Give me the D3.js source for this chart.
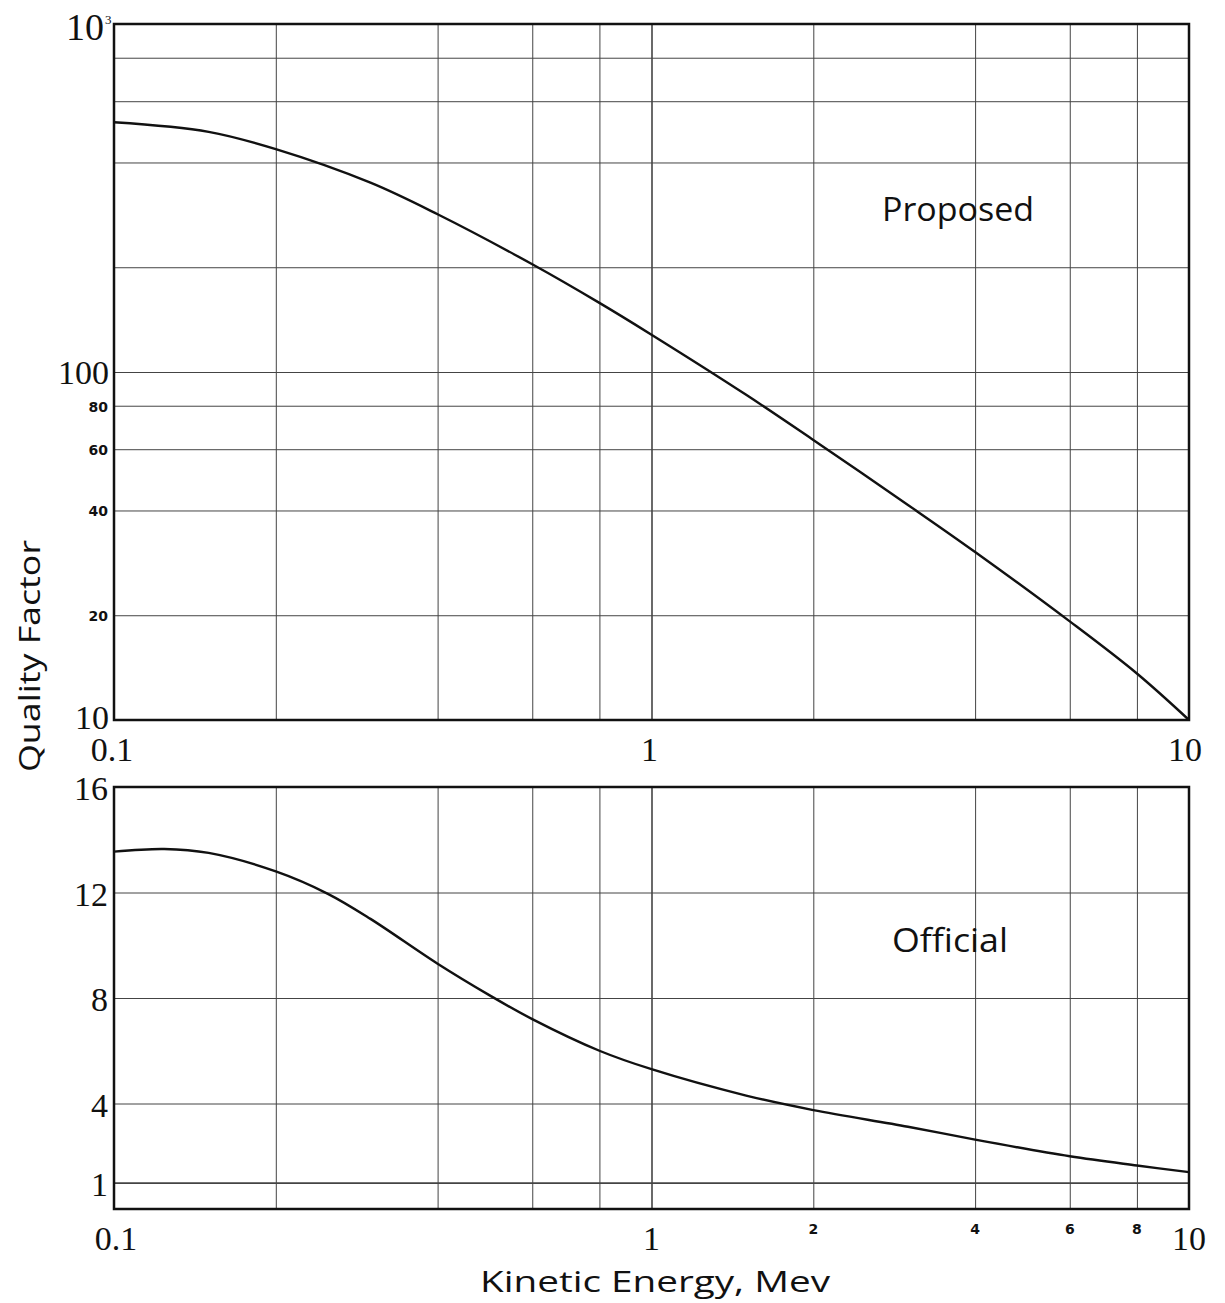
<!DOCTYPE html>
<html>
<head>
<meta charset="utf-8">
<script src="https://cdn.jsdelivr.net/npm/d3@7"></script>
<style>
  body { margin: 0; background: #fff; }
  .grid line { stroke: #444; stroke-width: 1; }
  .grid path { display: none; }
  .frame { fill: none; stroke: #111; stroke-width: 2.5; }
  .curve { fill: none; stroke: #111; stroke-width: 2.4; }
  .big { font-family: "Liberation Serif", serif; fill: #111; }
  .small { font-family: "DejaVu Sans", sans-serif; font-weight: bold; font-size: 14px; fill: #111; }
  .title { font-family: "Open Sans", sans-serif; fill: #111; }
</style>
</head>
<body>
<script>
// proposed quality factor vs kinetic energy (log-log)
const proposedE = [0.1, 0.15, 0.2, 0.3, 0.4, 0.6, 0.8, 1, 1.5, 2, 3, 4, 6, 8, 10];
const proposedQ = [522, 490, 437, 350, 284, 204, 158, 128, 86, 63.8, 41.5, 30.4, 19.2, 13.6, 10];

// official quality factor (linear y)
const officialE = [0.1, 0.124, 0.15, 0.2, 0.25, 0.3, 0.4, 0.5, 0.6, 0.8, 1, 1.5, 2, 3, 4, 6, 8, 10];
const officialQ = [13.55, 13.65, 13.5, 12.8, 11.95, 11.0, 9.3, 8.1, 7.2, 6.0, 5.3, 4.3, 3.75, 3.12, 2.63, 2.0, 1.65, 1.4];

const xGrid = [0.2, 0.4, 0.6, 0.8, 1, 2, 4, 6, 8];
const topGrid = [20, 40, 60, 80, 100, 200, 400, 600, 800];
const botGrid = [1, 4, 8, 12];
const topBigLabels = [10, 100];
const topSmallLabels = [20, 40, 60, 80];
const botLabels = [1, 4, 8, 12, 16];
const xBigLabels = [0.1, 1, 10];
const xSmallLabels = [2, 4, 6, 8];

const W = 1225, H = 1303;
const left = 114, right = 1189;
const topY0 = 24, topY1 = 720;
const botY0 = 787, botY1 = 1209;

const x = d3.scaleLog().domain([0.1, 10]).range([left, right]);
const yTop = d3.scaleLog().domain([10, 1000]).range([topY1, topY0]);
const yBot = d3.scaleLinear().domain([0, 16]).range([botY1, botY0]);

const svg = d3.select('body').append('svg')
    .attr('width', W)
    .attr('height', H);

function panel(y, yTicks, y0, y1) {
    svg.append('g')
        .attr('class', 'grid')
        .attr('transform', 'translate(0,' + y1 + ')')
        .call(d3.axisBottom(x).tickValues(xGrid).tickSize(-(y1 - y0)).tickFormat(''));
    svg.append('g')
        .attr('class', 'grid')
        .attr('transform', 'translate(' + left + ',0)')
        .call(d3.axisLeft(y).tickValues(yTicks).tickSize(-(right - left)).tickFormat(''));
    svg.append('rect')
        .attr('class', 'frame')
        .attr('x', left).attr('y', y0)
        .attr('width', right - left).attr('height', y1 - y0);
}

panel(yTop, topGrid, topY0, topY1);
panel(yBot, botGrid, botY0, botY1);

// the x = 1 line is drawn a little heavier
svg.selectAll('.grid line').filter(d => d === 1).style('stroke-width', 1.6);

const topLine = d3.line()
    .curve(d3.curveCatmullRom.alpha(0.5))
    .x(d => x(d[0]))
    .y(d => yTop(d[1]));
svg.append('path')
    .attr('class', 'curve')
    .attr('d', topLine(d3.zip(proposedE, proposedQ)));

const botLine = d3.line()
    .curve(d3.curveCatmullRom.alpha(0.5))
    .x(d => x(d[0]))
    .y(d => yBot(d[1]));
svg.append('path')
    .attr('class', 'curve')
    .attr('d', botLine(d3.zip(officialE, officialQ)));

// y labels, top panel
svg.selectAll('.ytb').data(topBigLabels).enter().append('text')
    .attr('class', 'big')
    .attr('x', 109).attr('y', d => yTop(d) + (d === 10 ? 9 : 12))
    .attr('text-anchor', 'end')
    .style('font-size', '34px')
    .text(d => d);
svg.append('text')
    .attr('class', 'big')
    .attr('x', 104).attr('y', yTop(1000) + 16)
    .attr('text-anchor', 'end')
    .style('font-size', '38px')
    .text('10');
svg.append('text')
    .attr('class', 'big')
    .attr('x', 105).attr('y', yTop(1000))
    .style('font-size', '13px')
    .text('3');
svg.selectAll('.yts').data(topSmallLabels).enter().append('text')
    .attr('class', 'small')
    .attr('x', 108).attr('y', d => yTop(d) + 6)
    .attr('text-anchor', 'end')
    .text(d => d);

// y labels, bottom panel
svg.selectAll('.yb').data(botLabels).enter().append('text')
    .attr('class', 'big')
    .attr('x', 108).attr('y', d => yBot(d) + 13)
    .attr('text-anchor', 'end')
    .style('font-size', '34px')
    .text(d => d);

// x labels
svg.selectAll('.xt').data(xBigLabels).enter().append('text')
    .attr('class', 'big')
    .attr('x', d => x(d) + (d === 10 ? -4 : -2)).attr('y', 761)
    .attr('text-anchor', 'middle')
    .style('font-size', '34px')
    .text(d => d);
svg.selectAll('.xb').data(xBigLabels).enter().append('text')
    .attr('class', 'big')
    .attr('x', d => x(d) + (d === 0.1 ? 2 : 0)).attr('y', 1250)
    .attr('text-anchor', 'middle')
    .style('font-size', '34px')
    .text(d => d);
svg.selectAll('.xs').data(xSmallLabels).enter().append('text')
    .attr('class', 'small')
    .attr('x', d => x(d)).attr('y', 1234)
    .attr('text-anchor', 'middle')
    .text(d => d);

// titles
svg.append('text')
    .attr('class', 'title')
    .attr('transform', 'translate(40,656) rotate(-90)')
    .attr('text-anchor', 'middle')
    .attr('textLength', 232)
    .attr('lengthAdjust', 'spacingAndGlyphs')
    .style('font-size', '30px')
    .text('Quality  Factor');
svg.append('text')
    .attr('class', 'title')
    .attr('x', 655).attr('y', 1292)
    .attr('text-anchor', 'middle')
    .attr('textLength', 350)
    .attr('lengthAdjust', 'spacingAndGlyphs')
    .style('font-size', '30px')
    .text('Kinetic  Energy,  Mev');

svg.append('text')
    .attr('class', 'title')
    .attr('x', 958).attr('y', 221)
    .attr('text-anchor', 'middle')
    .attr('textLength', 152)
    .attr('lengthAdjust', 'spacingAndGlyphs')
    .style('font-size', '32px')
    .text('Proposed');
svg.append('text')
    .attr('class', 'title')
    .attr('x', 950).attr('y', 952)
    .attr('text-anchor', 'middle')
    .attr('textLength', 116)
    .attr('lengthAdjust', 'spacingAndGlyphs')
    .style('font-size', '32px')
    .text('Official');
</script>
</body>
</html>
